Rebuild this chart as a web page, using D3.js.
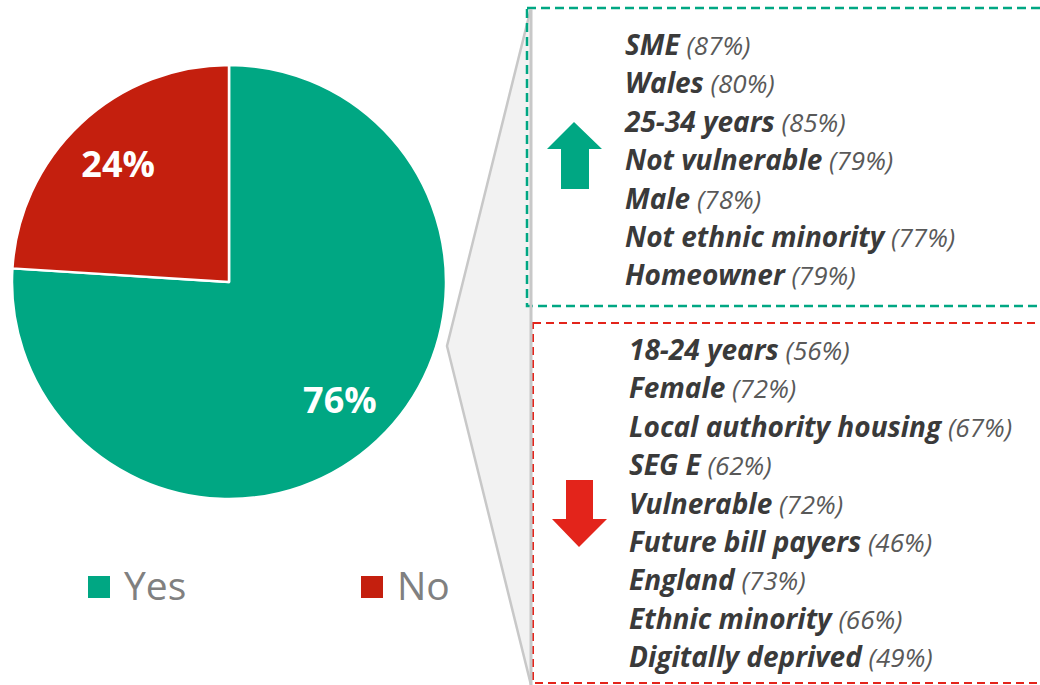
<!DOCTYPE html>
<html>
<head>
<meta charset="utf-8">
<script src="https://cdn.jsdelivr.net/npm/d3@7/dist/d3.min.js"></script>
<style>
  html, body { margin: 0; padding: 0; background: #fff; }
  svg { display: block; }
</style>
</head>
<body>
<script>
// Share answering Yes / No overall
const pieCategories = ["Yes", "No"];
const pieValues = [76, 24];
const pieColors = ["#00A783", "#C41F0E"];

// Groups above the overall figure
const higherGroups = ["SME", "Wales", "25-34 years", "Not vulnerable", "Male", "Not ethnic minority", "Homeowner"];
const higherValues = [87, 80, 85, 79, 78, 77, 79];

// Groups below the overall figure
const lowerGroups = ["18-24 years", "Female", "Local authority housing", "SEG E", "Vulnerable", "Future bill payers", "England", "Ethnic minority", "Digitally deprived"];
const lowerValues = [56, 72, 67, 62, 72, 46, 73, 66, 49];

const W = 1040, H = 685;
const svg = d3.select("body").append("svg").attr("width", W).attr("height", H);

const font = "'Open Sans', Lato, sans-serif";

// ---- Callout wedge linking pie to the breakdown ----
svg.append("path")
  .attr("d", d3.line()([[531, 8], [447, 346], [531, 685]]))
  .attr("fill", "#f2f2f2")
  .attr("stroke", "#c8c8c8")
  .attr("stroke-width", 2.5);

// ---- Pie ----
const cx = 229, cy = 282, R = 217;
const pie = d3.pie().sort(null).value(d => d.value);
const arcs = pie(pieCategories.map((c, i) => ({ cat: c, value: pieValues[i], color: pieColors[i] })));
const arc = d3.arc().innerRadius(0).outerRadius(R);
const labelArc = d3.arc().innerRadius(162).outerRadius(162);

const g = svg.append("g").attr("transform", `translate(${cx},${cy})`);
g.selectAll("path.slice").data(arcs).join("path")
  .attr("class", "slice")
  .attr("d", arc)
  .attr("fill", d => d.data.color)
  .attr("stroke", "#fff")
  .attr("stroke-width", 2.5)
  .attr("stroke-linejoin", "round");
g.selectAll("text.pct").data(arcs).join("text")
  .attr("class", "pct")
  .attr("transform", d => `translate(${labelArc.centroid(d)})`)
  .attr("text-anchor", "middle")
  .attr("dy", "0.36em")
  .attr("fill", "#fff")
  .attr("font-family", font)
  .attr("font-weight", 700)
  .attr("font-size", 36)
  .text(d => d.data.value + "%");

// ---- Legend ----
const legendX = [88, 361];
const legend = svg.selectAll("g.leg").data(pieCategories).join("g")
  .attr("class", "leg")
  .attr("transform", (d, i) => `translate(${legendX[i]},576)`);
legend.append("rect").attr("width", 22).attr("height", 22).attr("fill", (d, i) => pieColors[i]);
legend.append("text")
  .attr("x", 36).attr("y", 24)
  .attr("fill", "#808080")
  .attr("font-family", font)
  .attr("font-size", 39)
  .text(d => d);

// ---- Dashed boxes ----
svg.append("rect")
  .attr("x", 527).attr("y", 8).attr("width", 540).attr("height", 298)
  .attr("fill", "none").attr("stroke", "#00A783").attr("stroke-width", 2.5)
  .attr("stroke-dasharray", "9,5");
svg.append("rect")
  .attr("x", 533).attr("y", 323).attr("width", 540).attr("height", 360)
  .attr("fill", "none").attr("stroke", "#E3241B").attr("stroke-width", 2)
  .attr("stroke-dasharray", "8,5");
// wedge spine drawn over the green box's left edge
svg.append("line")
  .attr("x1", 531).attr("x2", 531).attr("y1", 9).attr("y2", 685)
  .attr("stroke", "#c8c8c8").attr("stroke-width", 3);

// ---- Arrows ----
svg.append("path")
  .attr("d", d3.line()([[574, 122], [602, 149], [589, 149], [589, 189], [561, 189], [561, 149], [547, 149]]) + "Z")
  .attr("fill", "#00A783");
svg.append("path")
  .attr("d", d3.line()([[566, 480], [593, 480], [593, 519], [607, 519], [579, 547], [552, 519], [566, 519]]) + "Z")
  .attr("fill", "#E3241B");

// ---- Group lists ----
const lineStep = 38.4;
const rowY = d3.scaleLinear().domain([0, 1]).range([0, lineStep]);

function drawList(groups, values, x, y0) {
  const t = svg.append("g").selectAll("text").data(groups).join("text")
    .attr("x", x)
    .attr("y", (d, i) => y0 + rowY(i))
    .attr("font-family", font)
    .attr("font-style", "italic")
    .attr("font-size", 28);
  t.append("tspan").attr("font-weight", 700).attr("fill", "#3a3a3a").text(d => d);
  t.append("tspan").attr("font-weight", 400).attr("fill", "#595959").attr("font-size", 26)
    .text((d, i) => " (" + values[i] + "%)");
}
drawList(higherGroups, higherValues, 625, 55);
drawList(lowerGroups, lowerValues, 629, 360);
</script>
</body>
</html>
